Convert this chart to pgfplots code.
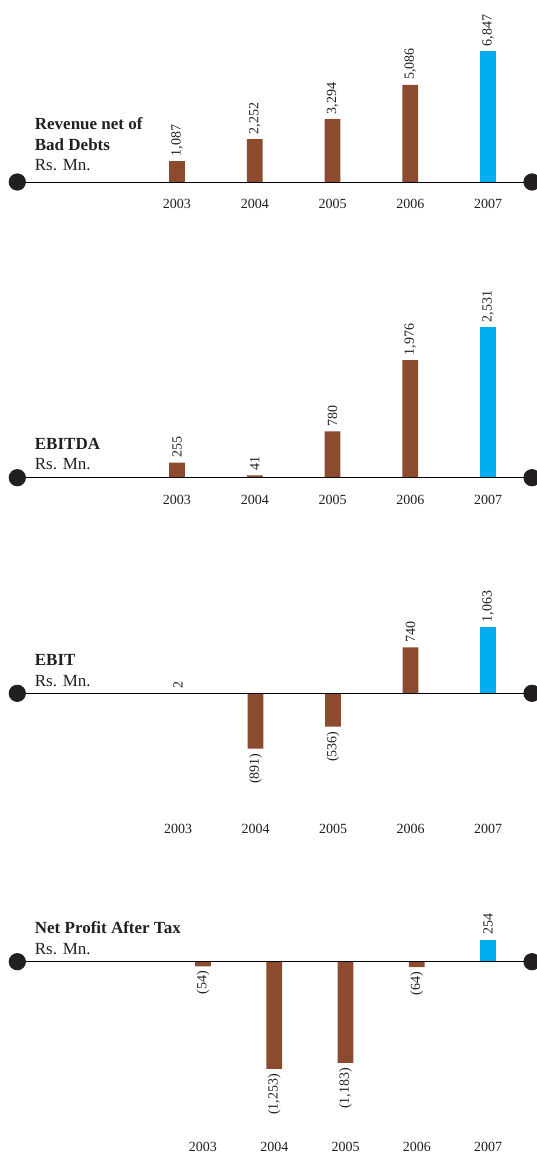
\documentclass[border=0pt]{standalone}
\usepackage{pgfplots}
\pgfplotsset{compat=1.18}
\usepackage{pgfplotstable}
\usepackage{fontspec}
\setmainfont{Liberation Serif}
\definecolor{brownbar}{RGB}{140,74,46}
\definecolor{cyanbar}{RGB}{0,174,239}
\definecolor{textc}{RGB}{35,31,32}
\definecolor{linec}{RGB}{60,60,60}
\newcommand{\lab}{\fontsize{7}{8}\selectfont}
\newcommand{\ttl}{\fontsize{8.5}{10}\selectfont}

\pgfplotstableread{
x y label
0 1087 {1,087}
1 2252 {2,252}
2 3294 {3,294}
3 5086 {5,086}
4 6847 {6,847}
}\revtab
\pgfplotstableread{
x y label
0 255 {255}
1 41 {41}
2 780 {780}
3 1976 {1,976}
4 2531 {2,531}
}\ebitdatab
\pgfplotstableread{
x y label
0 2 {2}
1 -891 {(891)}
2 -536 {(536)}
3 740 {740}
4 1063 {1,063}
}\ebittab
\pgfplotstableread{
x y label
0 -54 {(54)}
1 -1253 {(1,253)}
2 -1183 {(1,183)}
3 -64 {(64)}
4 254 {254}
}\npattab

\pgfplotsset{
  panel/.style={
    width=268pt, scale only axis,
    anchor=south west,
    axis x line=bottom, axis y line=none,
    x axis line style={draw=none},
    major tick length=0pt,
    xtick={0,1,2,3,4}, xticklabels={2003,2004,2005,2006,2007},
    xticklabel style={font=\lab, text=textc, anchor=center, inner sep=0pt},
    ytick=\empty,
    clip=false,
  },
  barplot/.style={
    ybar, bar width=7.85pt, bar shift=0pt, draw=none, fill=#1,
    nodes near coords, point meta=explicit symbolic,
    visualization depends on={rawy \as \rawy},
    every node near coord/.append style={rotate=90, font=\lab, text=textc,
      inner sep=2.3pt, anchor={\ifdim\rawy pt<0pt east\else west\fi}},
  },
  baseline/.style={draw=linec, line width=0.7pt},
  dots/.style={only marks, mark=*, mark size=4.1pt, color=textc, mark options={draw=textc, fill=textc}},
}

\begin{document}
\begin{tikzpicture}
\useasboundingbox (0pt,0pt) rectangle (268pt,-577.5pt);

% Panel 1
\begin{axis}[panel, at={(0pt,-101.75pt)}, height=96.75pt,
  xmin=-2.2765, xmax=4.6174, ymin=-1126.2, ymax=9010]
\addplot[barplot=brownbar, restrict x to domain=0:3] table[x=x, y=y, meta=label] {\revtab};
\addplot[barplot=cyanbar, restrict x to domain=4:4] table[x=x, y=y, meta=label] {\revtab};
\draw[baseline] (axis cs:-2.054,0) -- (axis cs:4.566,0);
\addplot[dots] coordinates {(-2.054,0) (4.566,0)};
\end{axis}

% Panel 2
\begin{axis}[panel, at={(0pt,-250pt)}, height=110pt,
  xmin=-2.2765, xmax=4.6174, ymin=-374.8, ymax=3322.7]
\addplot[barplot=brownbar, restrict x to domain=0:3] table[x=x, y=y, meta=label] {\ebitdatab};
\addplot[barplot=cyanbar, restrict x to domain=4:4] table[x=x, y=y, meta=label] {\ebitdatab};
\draw[baseline] (axis cs:-2.054,0) -- (axis cs:4.566,0);
\addplot[dots] coordinates {(-2.054,0) (4.566,0)};
\end{axis}

% Panel 3
\begin{axis}[panel, at={(0pt,-414.5pt)}, height=134.5pt,
  xmin=-2.2968, xmax=4.6194, ymin=-2188.7, ymax=2150]
\addplot[barplot=brownbar, restrict x to domain=0:3] table[x=x, y=y, meta=label] {\ebittab};
\addplot[barplot=cyanbar, restrict x to domain=4:4] table[x=x, y=y, meta=label] {\ebittab};
\draw[baseline] (axis cs:-2.0735,0) -- (axis cs:4.5677,0);
\addplot[dots] coordinates {(-2.0735,0) (4.5677,0)};
\end{axis}

% Panel 4
\begin{axis}[panel, at={(0pt,-573.5pt)}, height=138.5pt,
  xmin=-2.8491, xmax=4.6737, ymin=-2164.7, ymax=1071.3]
\addplot[barplot=brownbar, restrict x to domain=0:3] table[x=x, y=y, meta=label] {\npattab};
\addplot[barplot=cyanbar, restrict x to domain=4:4] table[x=x, y=y, meta=label] {\npattab};
\draw[baseline] (axis cs:-2.6063,0) -- (axis cs:4.6175,0);
\addplot[dots] coordinates {(-2.6063,0) (4.6175,0)};
\end{axis}

% Titles
\begin{scope}[every node/.style={anchor=base west, inner sep=0pt, text=textc}]
\node[font=\ttl\bfseries] at (17.25pt,-64.75pt) {Revenue net of};
\node[font=\ttl\bfseries] at (17.25pt,-75.25pt) {Bad Debts};
\node[font=\ttl] at (17.25pt,-85.5pt) {Rs. Mn.};
\node[font=\ttl\bfseries] at (17.25pt,-224.5pt) {EBITDA};
\node[font=\ttl] at (17.25pt,-234.75pt) {Rs. Mn.};
\node[font=\ttl\bfseries] at (17.25pt,-332.75pt) {EBIT};
\node[font=\ttl] at (17.25pt,-343pt) {Rs. Mn.};
\node[font=\ttl\bfseries] at (17.25pt,-466.5pt) {Net Profit After Tax};
\node[font=\ttl] at (17.25pt,-477pt) {Rs. Mn.};
\end{scope}
\end{tikzpicture}
\end{document}
